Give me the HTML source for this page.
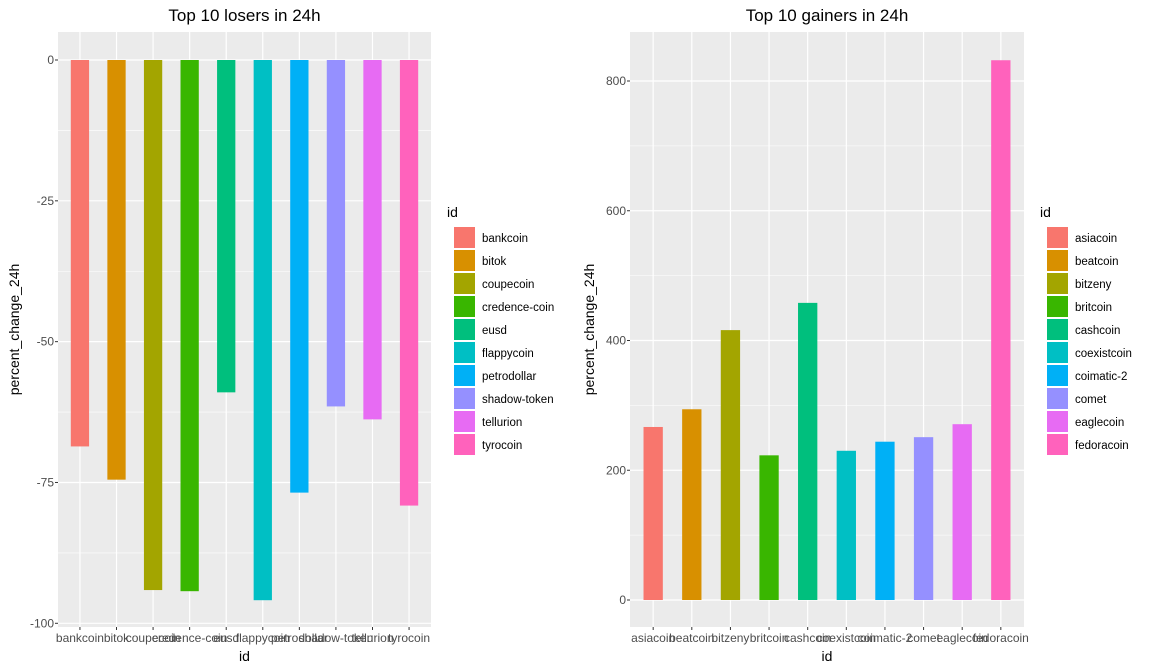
<!DOCTYPE html>
<html><head><meta charset="utf-8"><style>
body{margin:0;background:#fff;}
svg{display:block;font-family:"Liberation Sans",sans-serif;}
</style></head><body>
<svg id="c" width="1152" height="672"></svg>
<script>
const loserCats=["bankcoin","bitok","coupecoin","credence-coin","eusd","flappycoin","petrodollar","shadow-token","tellurion","tyrocoin"];
const loserVals=[-68.6,-74.5,-94.1,-94.3,-59.0,-95.9,-76.8,-61.5,-63.8,-79.1];
const loserTicks=[0,-25,-50,-75,-100];
const gainerCats=["asiacoin","beatcoin","bitzeny","britcoin","cashcoin","coexistcoin","coimatic-2","comet","eaglecoin","fedoracoin"];
const gainerVals=[266.7,294,416,223,458,230,244,251,271,832];
const gainerTicks=[0,200,400,600,800];
const colors=["#F8766D","#D89000","#A3A500","#39B600","#00BF7D","#00BFC4","#00B0F6","#9590FF","#E76BF3","#FF62BC"];
const NS="http://www.w3.org/2000/svg";
const svg=document.getElementById('c');
function mk(tag,attrs,parent,text){const e=document.createElementNS(NS,tag);for(const k in attrs)e.setAttribute(k,attrs[k]);if(text!==undefined)e.textContent=text;(parent||svg).appendChild(e);return e;}

function panel(o){
  const g=mk('g',{});
  
  
  const {x0,x1,y0,y1,v0,vPix0,vPix1,v1}=o;
  const ys=v=>vPix0+(v-v0)*(vPix1-vPix0)/(v1-v0);
  const n=o.cats.length, step=(x1-x0)/(n-1+1.2);
  const xs=i=>x0+step*(0.6+i);
  const bg=mk('rect',{x:x0,y:y0,width:x1-x0,height:y1-y0,fill:'#EBEBEB'},g);
  
  for(let i=0;i<o.ticks.length-1;i++){const m=(o.ticks[i]+o.ticks[i+1])/2;mk('line',{x1:x0,x2:x1,y1:ys(m),y2:ys(m),stroke:'#fff','stroke-width':0.6},g);}
  o.ticks.forEach(t=>{
    mk('line',{x1:x0,x2:x1,y1:ys(t),y2:ys(t),stroke:'#fff','stroke-width':1.2},g);
    mk('line',{x1:x0-3,x2:x0,y1:ys(t),y2:ys(t),stroke:'#333','stroke-width':1},g);
    const tl=mk('text',{x:x0-4,y:ys(t)+4,'text-anchor':'end','font-size':12,fill:'#4D4D4D'},g,String(t));
    
  });
  o.cats.forEach((c,i)=>{
    const x=xs(i);
    mk('line',{x1:x,x2:x,y1:y0,y2:y1,stroke:'#fff','stroke-width':1.2},g);
  });
  o.cats.forEach((c,i)=>{
    const x=xs(i),bw=step*0.5,v=o.vals[i];
    const r=mk('rect',{x:x-bw/2,y:Math.min(ys(0),ys(v)),width:bw,height:Math.abs(ys(v)-ys(0)),fill:colors[i]},g);
    
    mk('line',{x1:x,x2:x,y1:y1,y2:y1+3,stroke:'#333'},g);
    const tl=mk('text',{x:x,y:y1+15,'text-anchor':'middle','font-size':12,fill:'#4D4D4D'},g,c);
    
  });
  const t=mk('text',{x:(x0+x1)/2,y:21,'text-anchor':'middle','font-size':17,fill:'#000'},g,o.title);
  
  const xt=mk('text',{x:(x0+x1)/2,y:661,'text-anchor':'middle','font-size':14,fill:'#000'},g,'id');
  
  const yt=mk('text',{x:0,y:0,'text-anchor':'middle','font-size':14,fill:'#000',transform:`translate(${o.yTitleX},${(y0+y1)/2}) rotate(-90)`},g,'percent_change_24h');
  
  const lg=mk('g',{},g);
  
  mk('text',{x:o.lx-7,y:217,'font-size':14,fill:'#000'},lg,'id');
  o.cats.forEach((c,i)=>{
    const y=227+i*23;
    const e=mk('g',{},lg);
    
    mk('rect',{x:o.lx,y:y,width:21,height:21,fill:colors[i]},e);
    mk('text',{x:o.lx+28,y:y+15,'font-size':11.5,fill:'#000'},e,c);
  });
}
panel({name:'losers-panel',title:'Top 10 losers in 24h',cats:loserCats,vals:loserVals,ticks:loserTicks,
  x0:58,x1:431,y0:32,y1:627,v0:0,vPix0:60,v1:-100,vPix1:623.3,yTitleX:19,lx:454});
panel({name:'gainers-panel',title:'Top 10 gainers in 24h',cats:gainerCats,vals:gainerVals,ticks:gainerTicks,
  x0:630,x1:1024,y0:32,y1:627,v0:0,vPix0:600,v1:800,vPix1:81,yTitleX:594,lx:1047});
</script>
</body></html>
